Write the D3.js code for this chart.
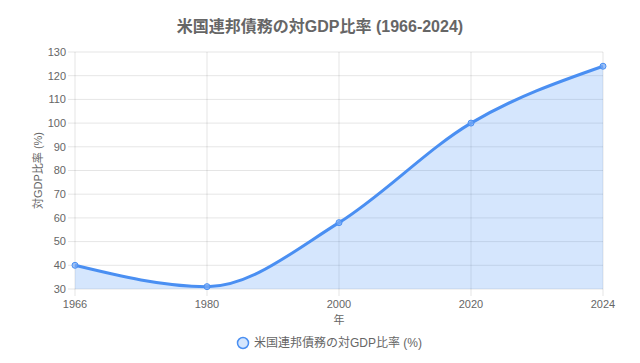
<!DOCTYPE html>
<html>
<head>
<meta charset="utf-8">
<script src="https://cdn.jsdelivr.net/npm/d3@7"></script>
<style>
  body { margin: 0; background: #fff; }
  text { font-family: "Liberation Sans", "Noto Sans CJK JP", sans-serif; }
</style>
</head>
<body>
<div id="chart-area"></div>
<script>
var years = ['1966', '1980', '2000', '2020', '2024'];
var debtRatio = [40, 31, 58, 100, 124];
var yTicks = [30, 40, 50, 60, 70, 80, 90, 100, 110, 120, 130];

var W = 640, H = 363;
var margin = { top: 52, right: 37, bottom: 74, left: 75 },
    width = W - margin.left - margin.right,
    height = H - margin.top - margin.bottom;

var svg = d3.select('#chart-area')
    .append('svg')
        .attr('width', W)
        .attr('height', H);

var g = svg.append('g')
    .attr('transform', 'translate(' + margin.left + ',' + margin.top + ')');

var x = d3.scalePoint()
    .domain(years)
    .range([0, width]);

var y = d3.scaleLinear()
    .domain([30, 130])
    .range([height, 0]);

var grid = 'rgba(0,0,0,0.1)';

// gridlines
g.selectAll('.hgrid')
    .data(yTicks)
    .enter().append('line')
    .attr('x1', -7).attr('x2', width)
    .attr('y1', d => y(d)).attr('y2', d => y(d))
    .attr('stroke', grid);

g.selectAll('.vgrid')
    .data(years)
    .enter().append('line')
    .attr('x1', d => x(d)).attr('x2', d => x(d))
    .attr('y1', 0).attr('y2', height + 7)
    .attr('stroke', grid);

// tick labels
g.selectAll('.ylab')
    .data(yTicks)
    .enter().append('text')
    .attr('x', -9)
    .attr('y', d => y(d))
    .attr('dy', '0.35em')
    .attr('text-anchor', 'end')
    .attr('font-size', '11px')
    .attr('fill', '#666')
    .text(d => d);

g.selectAll('.xlab')
    .data(years)
    .enter().append('text')
    .attr('x', d => x(d))
    .attr('y', height + 19)
    .attr('text-anchor', 'middle')
    .attr('font-size', '11px')
    .attr('fill', '#666')
    .text(d => d);

// area + line
var pts = years.map((d, i) => [x(d), y(debtRatio[i])]);

var area = d3.area()
    .x(d => d[0])
    .y0(height)
    .y1(d => d[1])
    .curve(d3.curveMonotoneX);

var line = d3.line()
    .x(d => d[0])
    .y(d => d[1])
    .curve(d3.curveMonotoneX);

g.append('path')
    .datum(pts)
    .attr('d', area)
    .attr('fill', 'rgba(66,140,245,0.22)');

g.append('path')
    .datum(pts)
    .attr('d', line)
    .attr('fill', 'none')
    .attr('stroke', '#4a8ff2')
    .attr('stroke-width', 3);

g.selectAll('.pt')
    .data(pts)
    .enter().append('circle')
    .attr('cx', d => d[0])
    .attr('cy', d => d[1])
    .attr('r', 3)
    .attr('fill', 'rgba(120,170,245,0.7)')
    .attr('stroke', '#4a8ff2')
    .attr('stroke-width', 1);

// title
svg.append('text')
    .attr('x', W / 2)
    .attr('y', 32)
    .attr('text-anchor', 'middle')
    .attr('font-size', '16px')
    .attr('font-weight', 'bold')
    .attr('fill', '#666')
    .text('米国連邦債務の対GDP比率 (1966-2024)');

// axis titles
svg.append('text')
    .attr('text-anchor', 'middle')
    .attr('x', margin.left + width / 2)
    .attr('y', 324)
    .attr('font-size', '11px')
    .attr('fill', '#666')
    .text('年');

svg.append('text')
    .attr('text-anchor', 'middle')
    .attr('transform', 'translate(42,' + (margin.top + height / 2) + ') rotate(-90)')
    .attr('font-size', '11px')
    .attr('fill', '#666')
    .text('対GDP比率 (%)');

// legend
svg.append('circle')
    .attr('cx', 243)
    .attr('cy', 343)
    .attr('r', 5.5)
    .attr('fill', 'rgba(66,140,245,0.22)')
    .attr('stroke', '#4a8ff2')
    .attr('stroke-width', 1.5);

svg.append('text')
    .attr('x', 254)
    .attr('y', 347)
    .attr('font-size', '12px')
    .attr('fill', '#666')
    .text('米国連邦債務の対GDP比率 (%)');
</script>
</body>
</html>
